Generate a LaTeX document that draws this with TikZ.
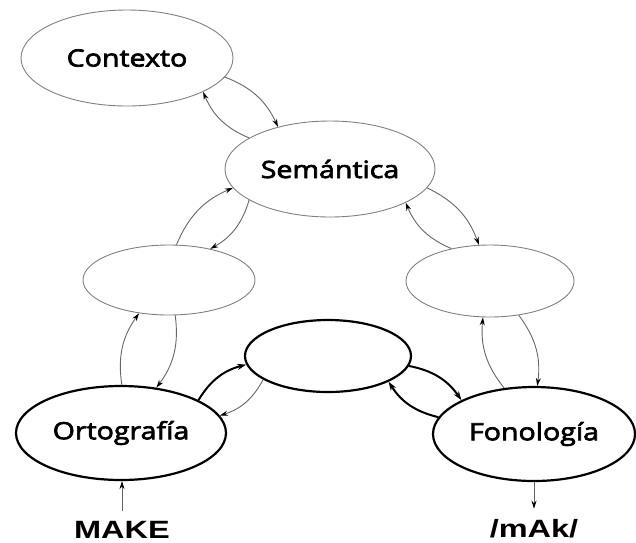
\documentclass[tikz,border=0pt]{standalone}
\usepackage{fontspec}
\usetikzlibrary{shapes.geometric,arrows.meta}
\newfontfamily\lblfont[FakeStretch=1.2,FakeBold=3]{Open Sans}
\newfontfamily\wordfont[FakeStretch=1.3]{Liberation Sans}
\definecolor{thinline}{gray}{0.5}
\definecolor{linkline}{gray}{0.4}
\tikzset{
  level/.style={ellipse, draw=thinline, line width=0.9pt, inner sep=0pt,
    font=\lblfont\fontsize{23.8}{26}\selectfont},
  mainlevel/.style={level, draw=black, line width=2.2pt},
  link/.style={-{Stealth[length=8pt,width=5pt,color=black]}, draw=linkline, line width=0.9pt},
  mainlink/.style={-{Stealth[length=9pt,width=6pt]}, draw=black, line width=2pt},
  word/.style={inner xsep=0pt, inner ysep=10pt, font=\wordfont\bfseries\fontsize{25}{28}\selectfont}
}
\begin{document}
\begin{tikzpicture}[x=1pt, y=1pt, bend angle=22]
    \useasboundingbox (0,0) rectangle (636,-542);
    \node[level, minimum width=212, minimum height=96] (ctx) at (127,-58) {Contexto};
    \node[level, minimum width=210, minimum height=96] (sem) at (330,-169) {Semántica};
    \node[level, minimum width=172, minimum height=70] (izq) at (169,-280) {};
    \node[level, minimum width=168, minimum height=72] (der) at (490,-281) {};
    \node[mainlevel, minimum width=166, minimum height=72] (mid) at (328,-356) {};
    \node[mainlevel, minimum width=210, minimum height=94] (ort) at (121,-433) {Ortografía};
    \node[mainlevel, minimum width=202, minimum height=94] (fon) at (534,-434) {Fonología};
    \node[word, anchor=base] (make) at (122,-538) {MAKE};
    \node[word, anchor=base] (mak) at (534,-537) {/mAk/};

    \draw[link] (ctx.-11) to[bend left] (sem.141);
    \draw[link] (sem.159) to[bend left] (ctx.-24);
    \draw[link] (izq.78) to[bend left] (sem.191);
    \draw[link] (sem.201) to[bend left] (izq.37);
    \draw[link] (sem.-11) to[bend left] (der.107);
    \draw[link] (der.140) to[bend left] (sem.-24);
    \draw[link] (ort.89) to[bend left] (izq.-132);
    \draw[link] (izq.-80) to[bend left] (ort.52);
    \draw[link] (fon.123) to[bend left] (der.-101);
    \draw[link] (der.-50) to[bend left] (fon.86);
    \draw[mainlink] (ort.23) to[bend left] (mid.186);
    \draw[link] (mid.200) to[bend left] (ort.10);
    \draw[mainlink] (mid.-7) to[bend left] (fon.155);
    \draw[mainlink] (fon.170) to[bend left] (mid.-23);
    \draw[link] (make.north) -- (make.north |- ort.south);
    \draw[link] (mak.north |- fon.south) -- (mak.north);
\end{tikzpicture}
\end{document}
